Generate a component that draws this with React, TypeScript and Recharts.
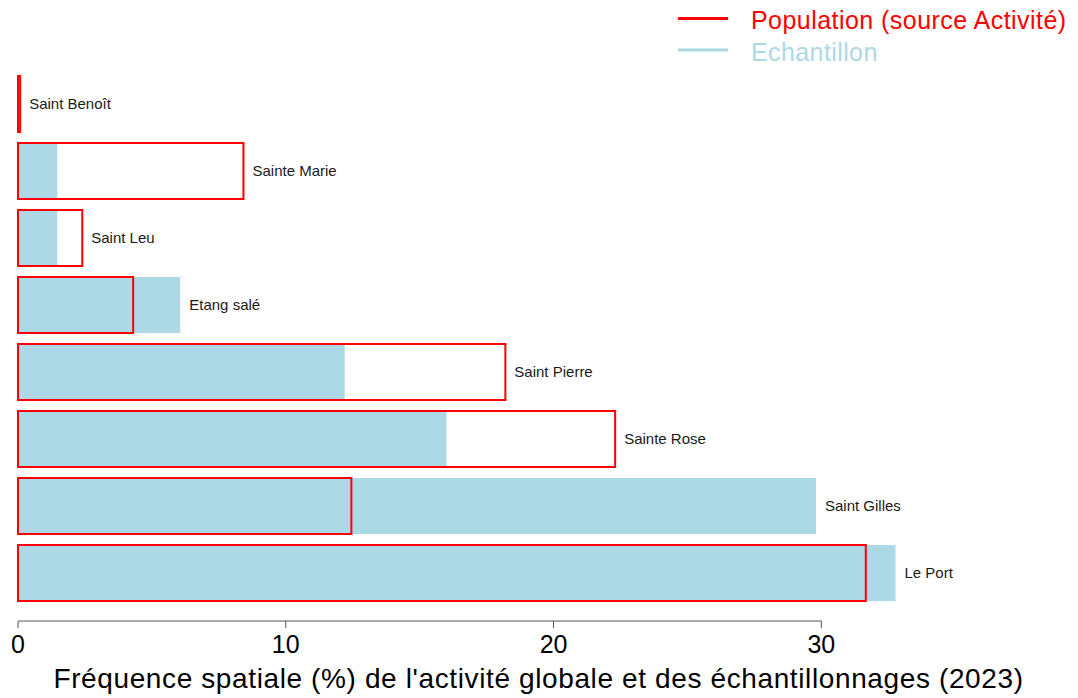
import React from "react";
import { BarChart, Bar, XAxis, YAxis, LabelList } from "recharts";

const categories = [
  "Saint Benoît",
  "Sainte Marie",
  "Saint Leu",
  "Etang salé",
  "Saint Pierre",
  "Sainte Rose",
  "Saint Gilles",
  "Le Port",
];
const echantillon = [0, 1.47, 1.47, 6.06, 12.2, 16.0, 29.8, 32.77];
const population = [0.08, 8.42, 2.4, 4.3, 18.2, 22.3, 12.45, 31.66];
const xTicks = [0, 10, 20, 30];

const RED = "#ff0000";
const BLUE = "#add8e6";
const FONT = "'Liberation Sans', Arial, sans-serif";

const W = 1070;
const H = 690;
const MARGIN = { top: 62, right: 96, bottom: 0, left: 10 };

const data = categories.map((name, i) => ({
  name,
  echantillon: echantillon[i],
  population: population[i],
  reach: Math.max(echantillon[i], population[i]),
}));

// draws tick mark + label, and the axis line (0..30 only, R style) from the last tick
function XTick(props: any) {
  const { x, y, payload } = props;
  const last = payload.value === xTicks[xTicks.length - 1];
  return (
    <g>
      {last && <line x1={MARGIN.left} y1={y} x2={x} y2={y} stroke="#555" strokeWidth={1} />}
      <line x1={x} y1={y} x2={x} y2={y + 7} stroke="#555" strokeWidth={1} />
      <text x={x} y={y + 32} textAnchor="middle" fontSize={25} fill="#000" fontFamily={FONT}>
        {payload.value}
      </text>
    </g>
  );
}

export default function App() {
  return (
    <div style={{ position: "relative", width: W, height: H, fontFamily: FONT }}>
      <BarChart width={W} height={H} data={data} layout="vertical" margin={MARGIN}>
        <XAxis
          type="number"
          domain={[0, 36]}
          ticks={xTicks}
          axisLine={false}
          tickLine={false}
          tickSize={0}
          tickMargin={0}
          height={77}
          tick={<XTick />}
          interval={0}
        />
        <YAxis yAxisId="ech" type="category" dataKey="name" hide padding={{ top: 0, bottom: 15 }} />
        <YAxis yAxisId="pop" type="category" dataKey="name" hide padding={{ top: 0, bottom: 15 }} />
        <YAxis yAxisId="lab" type="category" dataKey="name" hide padding={{ top: 0, bottom: 15 }} />
        <Bar yAxisId="ech" dataKey="echantillon" fill={BLUE} barSize={56} isAnimationActive={false} />
        <Bar
          yAxisId="pop"
          dataKey="population"
          fill="none"
          stroke={RED}
          strokeWidth={2}
          barSize={56}
          isAnimationActive={false}
        />
        <Bar yAxisId="lab" dataKey="reach" fill="transparent" barSize={56} isAnimationActive={false}>
          <LabelList dataKey="name" position="right" offset={9} fontSize={15} fill="#1a1a1a" fontFamily={FONT} />
        </Bar>
      </BarChart>
      <svg
        width={W}
        height={H}
        style={{ position: "absolute", left: 0, top: 0, pointerEvents: "none", overflow: "visible" }}
      >
        <line x1={670} y1={10.5} x2={720} y2={10.5} stroke={RED} strokeWidth={3} />
        <line x1={670} y1={42} x2={720} y2={42} stroke={BLUE} strokeWidth={3} />
        <text x={743} y={20.5} fontSize={25} letterSpacing={0.45} fill={RED} fontFamily={FONT}>
          Population (source Activité)
        </text>
        <text x={743} y={53} fontSize={25} letterSpacing={0.4} fill={BLUE} fontFamily={FONT}>
          Echantillon
        </text>
        <text
          x={530.5}
          y={679.5}
          fontSize={28}
          letterSpacing={0.62}
          textAnchor="middle"
          fill="#000"
          fontFamily={FONT}
        >
          Fréquence spatiale (%) de l'activité globale et des échantillonnages (2023)
        </text>
      </svg>
    </div>
  );
}
